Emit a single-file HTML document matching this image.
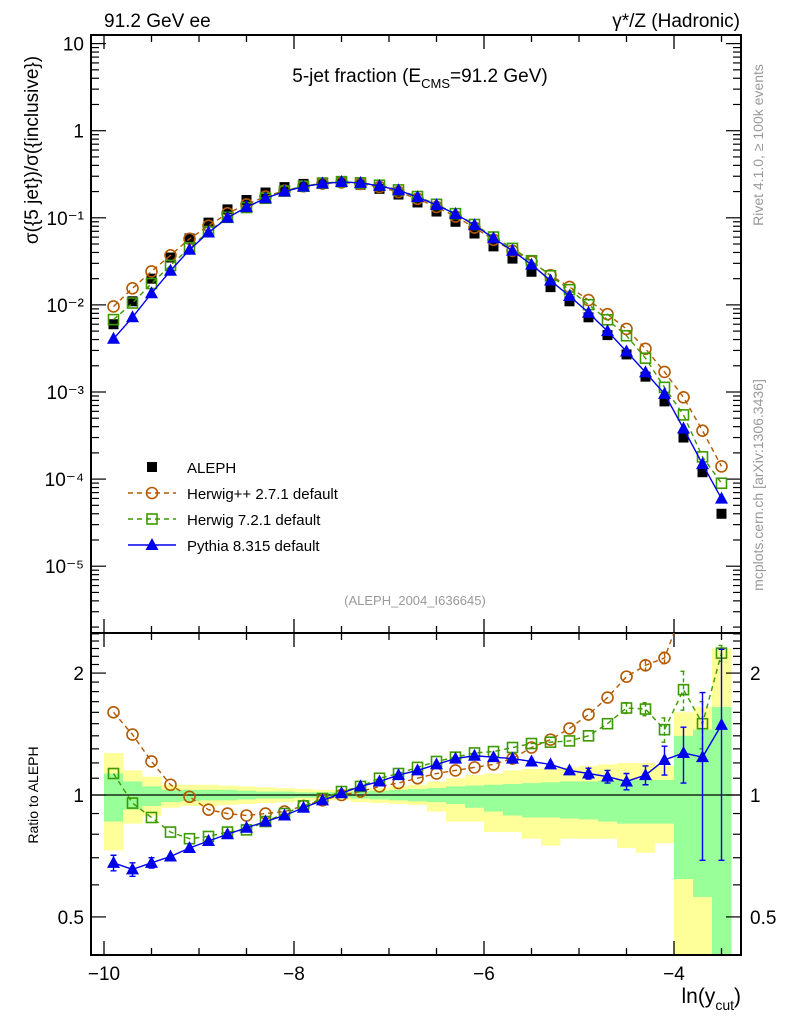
<!DOCTYPE html>
<html><head><meta charset="utf-8"><style>
html,body{margin:0;padding:0;background:#fff;}
svg{display:block;font-family:"Liberation Sans",Arial,sans-serif;}
</style></head><body>
<svg id="chart" width="786" height="1024" viewBox="0 0 786 1024" xmlns="http://www.w3.org/2000/svg">
<defs>
<clipPath id="cm"><rect x="91" y="35" width="650" height="598"/></clipPath>
<clipPath id="cr"><rect x="91" y="633" width="650" height="322"/></clipPath>
</defs>
<text x="104" y="27" font-size="19">91.2 GeV ee</text>
<text x="740" y="27" font-size="19" text-anchor="end">γ*/Z (Hadronic)</text>
<text x="420" y="82" font-size="19" text-anchor="middle">5-jet fraction (E<tspan font-size="13" dy="6">CMS</tspan><tspan dy="-6">=91.2 GeV)</tspan></text>
<text x="415" y="605" font-size="13" fill="#999" text-anchor="middle">(ALEPH_2004_I636645)</text>
<text transform="translate(38,150) rotate(-90)" font-size="19" text-anchor="middle">σ({5 jet})/σ({inclusive})</text>
<text transform="translate(38,795) rotate(-90)" font-size="14" text-anchor="middle">Ratio to ALEPH</text>
<text x="741" y="1003" font-size="21" text-anchor="end">ln(y<tspan font-size="14" dy="7">cut</tspan><tspan dy="-7">)</tspan></text>
<text transform="translate(763,145) rotate(-90)" font-size="14" fill="#999" text-anchor="middle">Rivet 4.1.0, ≥ 100k events</text>
<text transform="translate(763,485) rotate(-90)" font-size="14" fill="#999" text-anchor="middle">mcplots.cern.ch [arXiv:1306.3436]</text>
<g id="bands" clip-path="url(#cr)"></g>
<g id="axes"></g>
<g id="mainMarks" clip-path="url(#cm)"></g>
<g id="ratioMarks" clip-path="url(#cr)"></g>
<g id="legend"></g>
</svg>
<script>
const xCenters=[-9.9,-9.7,-9.5,-9.3,-9.1,-8.9,-8.7,-8.5,-8.3,-8.1,-7.9,-7.7,-7.5,-7.3,-7.1,-6.9,-6.7,-6.5,-6.3,-6.1,-5.9,-5.7,-5.5,-5.3,-5.1,-4.9,-4.7,-4.5,-4.3,-4.1,-3.9,-3.7,-3.5];
const alephValues=[6e-3,1.1e-2,2.0e-2,3.5e-2,5.8e-2,0.088,0.125,0.16,0.195,0.225,0.245,0.255,0.255,0.24,0.215,0.185,0.15,0.118,0.09,0.066,0.047,0.034,0.024,0.016,0.011,0.0072,0.0045,0.0027,0.0015,0.00078,0.0003,0.00012,0.00004];
const herwigppRatio=[1.6,1.41,1.21,1.06,0.99,0.92,0.9,0.89,0.9,0.91,0.94,0.97,1.0,1.02,1.05,1.07,1.1,1.13,1.15,1.17,1.19,1.23,1.31,1.37,1.46,1.58,1.74,1.96,2.09,2.18,2.9,3.0,3.5];
const herwigppErr=[0.02,0.02,0.02,0.015,0.01,0.01,0.01,0.01,0.01,0.01,0.01,0.01,0.01,0.01,0.01,0.01,0.01,0.01,0.01,0.01,0.01,0.015,0.015,0.02,0.02,0.025,0.03,0.05,0.06,0.07,0.1,0.15,0.3];
const herwig7Ratio=[1.13,0.955,0.88,0.81,0.78,0.79,0.81,0.82,0.86,0.9,0.94,0.98,1.02,1.05,1.1,1.13,1.17,1.21,1.24,1.27,1.28,1.31,1.34,1.35,1.36,1.4,1.5,1.64,1.63,1.45,1.82,1.5,2.24];
const herwig7Err=[0.03,0.02,0.015,0.01,0.01,0.01,0.01,0.01,0.01,0.01,0.01,0.01,0.01,0.01,0.01,0.01,0.01,0.01,0.01,0.01,0.01,0.015,0.015,0.02,0.02,0.03,0.04,0.05,0.06,0.1,0.2,0.2,0.1];
const pythiaRatio=[0.68,0.655,0.68,0.705,0.74,0.77,0.8,0.83,0.86,0.89,0.93,0.97,1.01,1.05,1.08,1.12,1.15,1.19,1.23,1.25,1.24,1.23,1.21,1.19,1.15,1.13,1.11,1.08,1.12,1.22,1.27,1.24,1.49];
const pythiaErr=[0.03,0.025,0.02,0.015,0.01,0.01,0.01,0.01,0.01,0.01,0.01,0.01,0.01,0.01,0.01,0.01,0.01,0.01,0.01,0.01,0.01,0.015,0.02,0.025,0.03,0.035,0.04,0.05,0.06,0.1,0.2,0.55,0.8];
const yellowHi=[1.27,1.15,1.11,1.06,1.06,1.06,1.055,1.05,1.045,1.04,1.035,1.03,1.03,1.035,1.04,1.05,1.06,1.08,1.1,1.12,1.13,1.15,1.16,1.17,1.17,1.18,1.19,1.2,1.2,1.18,1.6,1.65,2.3];
const yellowLo=[0.73,0.85,0.89,0.93,0.94,0.94,0.945,0.95,0.955,0.96,0.965,0.97,0.97,0.96,0.955,0.95,0.945,0.91,0.86,0.86,0.81,0.81,0.78,0.75,0.78,0.78,0.78,0.74,0.72,0.76,0.3,0.3,0.3];
const greenHi=[1.13,1.08,1.05,1.03,1.03,1.03,1.03,1.025,1.02,1.02,1.015,1.015,1.015,1.02,1.025,1.03,1.035,1.04,1.05,1.055,1.06,1.065,1.07,1.075,1.08,1.08,1.085,1.09,1.09,1.09,1.4,1.45,1.65];
const greenLo=[0.86,0.92,0.94,0.96,0.965,0.97,0.97,0.975,0.98,0.98,0.985,0.985,0.985,0.98,0.975,0.97,0.965,0.96,0.95,0.93,0.91,0.89,0.88,0.88,0.875,0.87,0.86,0.85,0.85,0.85,0.62,0.56,0.3];
const xTicks=[-10,-8,-6,-4];
const xTickLabels=["−10","−8","−6","−4"];
const mainTickExps=[1,0,-1,-2,-3,-4,-5];
const mainTickLabels=["10","1","10⁻¹","10⁻²","10⁻³","10⁻⁴","10⁻⁵"];
const ratioTicks=[2,1,0.5];
const ratioTickLabels=["2","1","0.5"];

const NS="http://www.w3.org/2000/svg";
const L=91,R=741,MT=35,MB=633,RB=955;
const xp=v=>104+(v+10)*95;
const ym=v=>130.7-Math.log10(v)*87.1;
const yr=v=>795-Math.log10(v)*405;
function mk(tag,attrs,parent){const e=document.createElementNS(NS,tag);for(const k in attrs)e.setAttribute(k,attrs[k]);parent.appendChild(e);return e;}
const axes=document.getElementById('axes'),bands=document.getElementById('bands');
const mm=document.getElementById('mainMarks'),rm=document.getElementById('ratioMarks'),lg=document.getElementById('legend');

// bands
xCenters.forEach((c,i)=>{
  let r=mk('rect',{x:xp(c-0.1),y:yr(yellowHi[i]),width:xp(c+0.1)-xp(c-0.1)+0.5,height:yr(yellowLo[i])-yr(yellowHi[i]),fill:'#ffff99'},bands);
  
  
  let g=mk('rect',{x:xp(c-0.1),y:yr(greenHi[i]),width:xp(c+0.1)-xp(c-0.1)+0.5,height:yr(greenLo[i])-yr(greenHi[i]),fill:'#99ff99'},bands);
  
  
});
let one=mk('line',{x1:L,x2:R,y1:yr(1),y2:yr(1),stroke:'#000','stroke-width':1.3},axes);



// frames
[[MT,MB],[MB,RB]].forEach(([t,b],k)=>{
  let f=mk('rect',{x:L,y:t,width:R-L,height:b-t,fill:'none',stroke:'#000','stroke-width':2},axes);
  
  
  for(let v=-10;v<=-3.5;v+=0.5){
    const maj=Math.abs(v-Math.round(v/2)*2)<1e-6, len=maj?14:7;
    mk('line',{x1:xp(v),x2:xp(v),y1:b,y2:b-len,stroke:'#000','stroke-width':1.3},axes);
    mk('line',{x1:xp(v),x2:xp(v),y1:t,y2:t+len,stroke:'#000','stroke-width':1.3},axes);
  }
});
xTicks.forEach((v,i)=>{
  let t=mk('text',{x:xp(v),y:980,'font-size':19,'text-anchor':'middle'},axes);t.textContent=xTickLabels[i];
  
  
});
// main y ticks
for(let e=-6;e<=1;e++){for(let m=1;m<10;m++){const v=m*Math.pow(10,e),y=ym(v);if(y<MT||y>MB)continue;const len=m==1?15:8;
  mk('line',{x1:L,x2:L+len,y1:y,y2:y,stroke:'#000','stroke-width':1.2},axes);
  mk('line',{x1:R,x2:R-len,y1:y,y2:y,stroke:'#000','stroke-width':1.2},axes);}}
mainTickExps.forEach((e,i)=>{
  let t=mk('text',{x:84,y:ym(Math.pow(10,e))+7,'font-size':19,'text-anchor':'end'},axes);t.textContent=mainTickLabels[i];
  
  
});
// ratio y ticks
for(let v=0.4;v<=2.5001;v+=0.1){const y=yr(v);if(y<MB||y>RB)continue;const maj=[0.5,1,2].some(q=>Math.abs(q-v)<1e-6);const len=maj?15:8;
  mk('line',{x1:L,x2:L+len,y1:y,y2:y,stroke:'#000','stroke-width':1.2},axes);
  mk('line',{x1:R,x2:R-len,y1:y,y2:y,stroke:'#000','stroke-width':1.2},axes);}
ratioTicks.forEach((v,i)=>{
  let t=mk('text',{x:84,y:yr(v)+7,'font-size':19,'text-anchor':'end'},axes);t.textContent=ratioTickLabels[i];
  
  
  let t2=mk('text',{x:750,y:yr(v)+7,'font-size':19},axes);t2.textContent=ratioTickLabels[i];
  
  
});

function marker(type,x,y,color,parent,name){
  let e;
  if(type==='sq') e=mk('rect',{x:x-5,y:y-5,width:10,height:10,fill:'#000'},parent);
  else if(type==='circ') e=mk('circle',{cx:x,cy:y,r:5.5,fill:'none',stroke:color,'stroke-width':1.6},parent);
  else if(type==='osq') e=mk('rect',{x:x-5,y:y-5,width:10,height:10,fill:'none',stroke:color,'stroke-width':1.6},parent);
  else e=mk('polygon',{points:`${x},${y-7} ${x-6.5},${y+5} ${x+6.5},${y+5}`,fill:color},parent);
  
  
}
const series=[
 {name:'herwigpp',ratio:herwigppRatio,err:herwigppErr,color:'#b35900',type:'circ',dash:'5,4'},
 {name:'herwig7',ratio:herwig7Ratio,err:herwig7Err,color:'#3d9900',type:'osq',dash:'5,4'},
 {name:'pythia',ratio:pythiaRatio,err:pythiaErr,color:'#0000ee',type:'tri',dash:null}
];
// ALEPH main
alephValues.forEach((v,i)=>marker('sq',xp(xCenters[i]),ym(v),'#000',mm,'aleph-point'));
series.forEach(s=>{
  const vals=s.ratio.map((r,i)=>r*alephValues[i]);
  let pl=mk('polyline',{points:vals.map((v,i)=>xp(xCenters[i])+','+ym(v)).join(' '),fill:'none',stroke:s.color,'stroke-width':1.4},mm);
  if(s.dash)pl.setAttribute('stroke-dasharray',s.dash);
  
  
  vals.forEach((v,i)=>marker(s.type,xp(xCenters[i]),ym(v),s.color,mm,s.name+'-main-point'));
  let rl=mk('polyline',{points:s.ratio.map((r,i)=>xp(xCenters[i])+','+yr(r)).join(' '),fill:'none',stroke:s.color,'stroke-width':1.4},rm);
  if(s.dash)rl.setAttribute('stroke-dasharray',s.dash);
  
  
  s.ratio.forEach((r,i)=>{
    const x=xp(xCenters[i]),y1=yr(r+s.err[i]),y2=yr(Math.max(r-s.err[i],0.3));
    if(y2-y1>10){
      let eb=mk('path',{d:`M${x},${y1}V${y2}M${x-3},${y1}H${x+3}M${x-3},${y2}H${x+3}`,stroke:s.color,'stroke-width':1.4,fill:'none'},rm);
      if(s.dash)eb.setAttribute('stroke-dasharray','4,3');
      
      
    }
    marker(s.type,x,yr(r),s.color,rm,s.name+'-ratio-point');
  });
});
// legend
const leg=[['ALEPH','sq','#000',null],['Herwig++ 2.7.1 default','circ','#b35900','5,4'],['Herwig 7.2.1 default','osq','#3d9900','5,4'],['Pythia 8.315 default','tri','#0000ee',null]];
leg.forEach((l,i)=>{
  const y=467+i*26;
  const g=mk('g',{},lg);
  
  
  if(i>0){let ln=mk('line',{x1:128,x2:176,y1:y,y2:y,stroke:l[2],'stroke-width':1.4},g);if(l[3])ln.setAttribute('stroke-dasharray',l[3]);}
  marker(l[1],152,y,l[2],g,'legend-marker');
  let t=mk('text',{x:187,y:y+6,'font-size':15},g);t.textContent=l[0];
});
</script>
</body></html>
